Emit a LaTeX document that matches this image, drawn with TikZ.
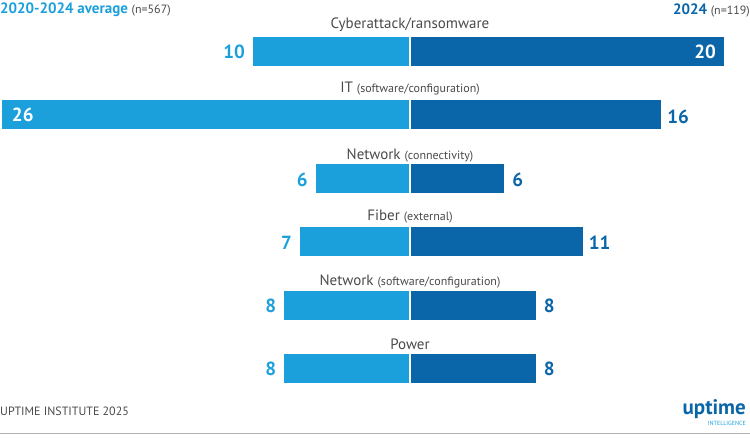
\documentclass[tikz,border=0pt]{standalone}
\usepackage{fontspec}
\setmainfont{PT Sans}
\definecolor{lb}{HTML}{1BA0DC}
\definecolor{db}{HTML}{0A66A8}
\definecolor{tx}{HTML}{4A4A4A}
\newcommand\subtxt[1]{{\fontsize{12}{12}\selectfont#1}}
\begin{document}
\begin{tikzpicture}[x=1pt,y=-1pt,
  cat/.style={font=\fontsize{15}{15}\selectfont,text=tx,inner sep=0pt},
  lval/.style={font=\fontsize{19}{19}\selectfont\bfseries,text=lb,inner sep=0pt},
  dval/.style={font=\fontsize{19}{19}\selectfont\bfseries,text=db,inner sep=0pt},
  wval/.style={font=\fontsize{19}{19}\selectfont\bfseries,text=white,inner sep=0pt}]
\useasboundingbox (0,0) rectangle (750,439);
\def\uu{15.7}
\def\cx{410}
\foreach \t/\l/\r in {37/10/20,100/26/16,164/6/6,227/7/11,291/8/8,354/8/8}{
  \fill[lb] ({\cx-\l*\uu},\t) rectangle (\cx-1,\t+29);
  \fill[db] (\cx+1,\t) rectangle ({\cx+\r*\uu},\t+29);
}
\node[lval,anchor=east] (v1l) at ({\cx-10*\uu-8},51.5) {10};
\node[wval,anchor=east] (v1r) at ({\cx+20*\uu-8},51.5) {20};
\node[wval,anchor=west] (v2l) at ({\cx-26*\uu+10},114.5) {26};
\node[dval,anchor=west] (v2r) at ({\cx+16*\uu+6},117) {16};
\node[lval,anchor=east] (v3l) at ({\cx-6*\uu-8},180) {6};
\node[dval,anchor=west] (v3r) at ({\cx+6*\uu+8},180) {6};
\node[lval,anchor=east] (v4l) at ({\cx-7*\uu-8},243) {7};
\node[dval,anchor=west] (v4r) at ({\cx+11*\uu+6},243) {11};
\node[lval,anchor=east] (v5l) at ({\cx-8*\uu-8},306) {8};
\node[dval,anchor=west] (v5r) at ({\cx+8*\uu+8},306) {8};
\node[lval,anchor=east] (v6l) at ({\cx-8*\uu-8},369) {8};
\node[dval,anchor=west] (v6r) at ({\cx+8*\uu+8},369) {8};
\node[cat] (c1) at (\cx,25) {Cyberattack/ransomware};
\node[cat] (c2) at (\cx,89) {IT \subtxt{(software/configuration)}};
\node[cat] (c3) at (\cx,155) {Network \subtxt{(connectivity)}};
\node[cat] (c4) at (\cx,217) {Fiber \subtxt{(external)}};
\node[cat] (c5) at (\cx,281) {Network \subtxt{(software/configuration)}};
\node[cat] (c6) at (\cx,344) {Power};
\node[anchor=west,inner sep=0pt,text=lb,font=\fontsize{15}{15}\selectfont\bfseries] (hl) at (0,10) {2020-2024 average {\mdseries\fontsize{12}{12}\selectfont\color{tx}(n=567)}};
\node[anchor=east,inner sep=0pt,text=db,font=\fontsize{15}{15}\selectfont\bfseries] (hr) at (750,10) {2024 {\mdseries\fontsize{12}{12}\selectfont\color{tx}(n=119)}};
\node[anchor=west,inner sep=0pt,text=tx,font=\fontsize{12}{12}\selectfont] (ft) at (0,411) {UPTIME INSTITUTE 2025};
\node[anchor=east,inner sep=0pt,text=db,font=\fontsize{21}{21}\selectfont\bfseries] (lg) at (746,409) {uptime};
\node[anchor=north east,inner sep=0pt,text=lb,font=\fontsize{6}{6}\selectfont] (lg2) at (746,421) {INTELLIGENCE};
\draw[gray!60,line width=0.8pt] (0,433) -- (750,433);
\end{tikzpicture}
\end{document}
